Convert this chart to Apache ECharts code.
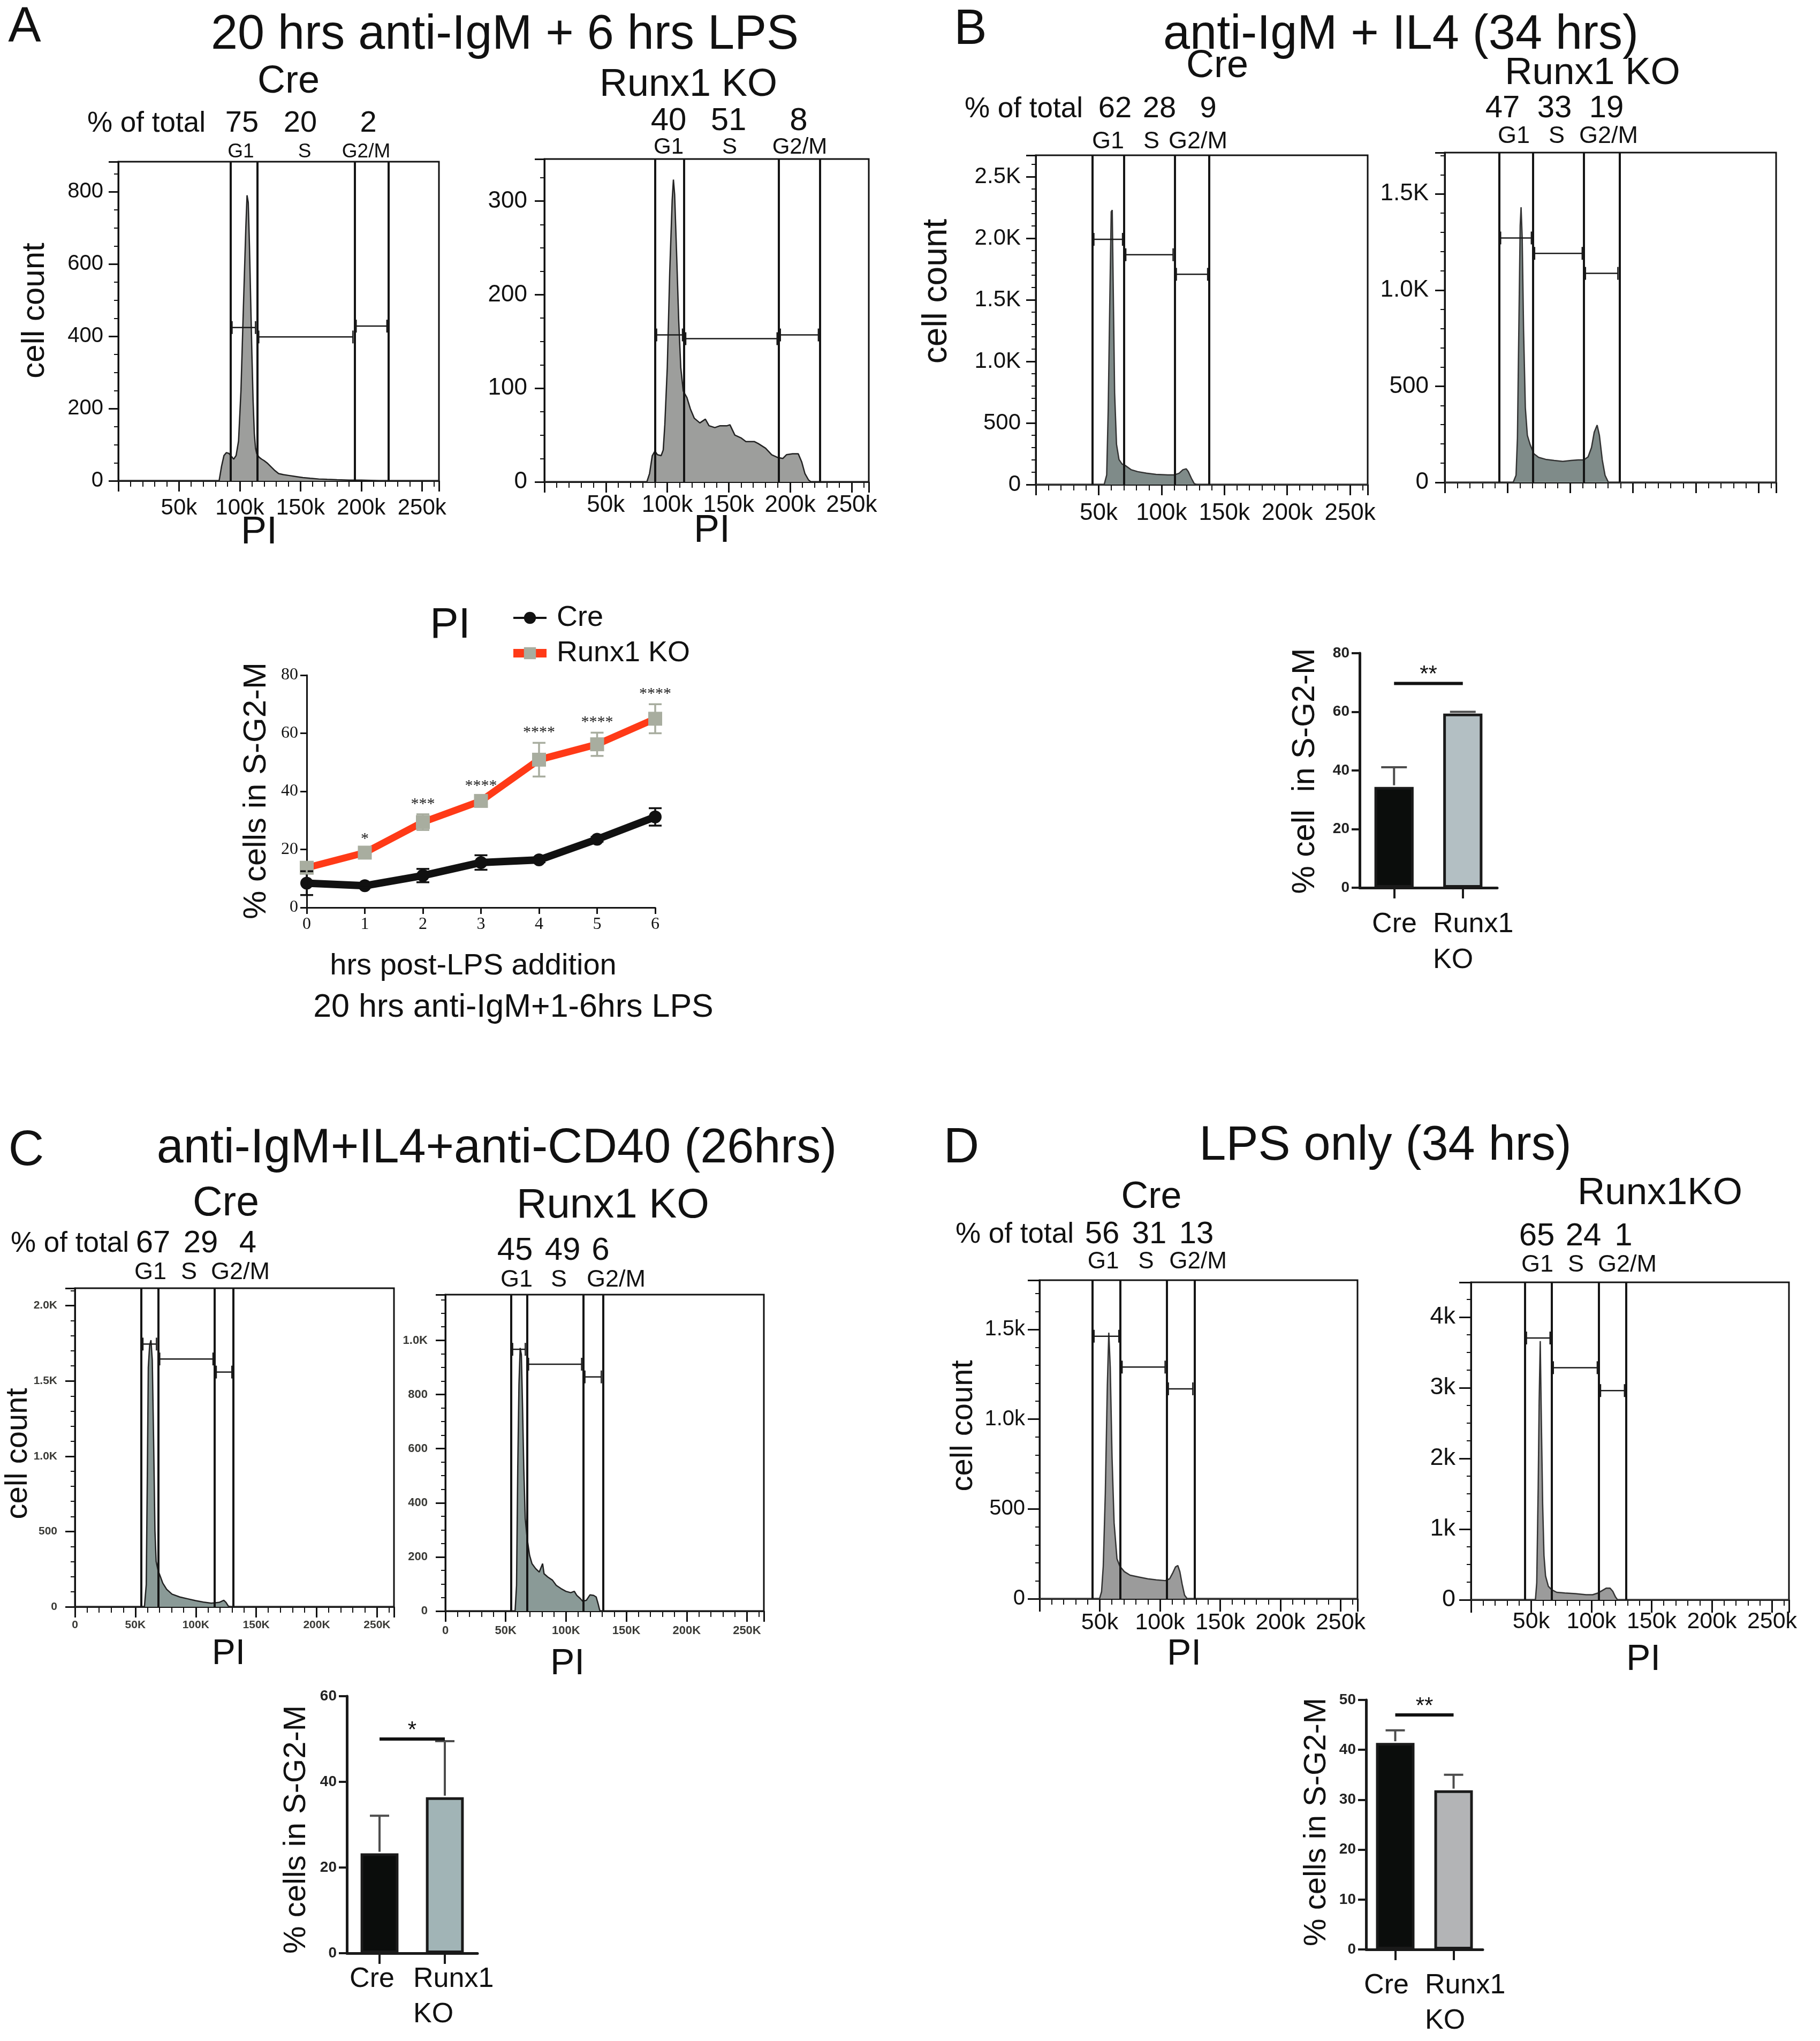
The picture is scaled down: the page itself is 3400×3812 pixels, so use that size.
<!DOCTYPE html>
<html>
<head>
<meta charset="utf-8">
<title>Runx1 KO cell cycle</title>
<script src="https://cdn.jsdelivr.net/npm/echarts@6.0.0/dist/echarts.min.js"></script>
<style>
html,body{margin:0;padding:0;background:#ffffff;}
#chart{width:3400px;height:3812px;}
</style>
</head>
<body>
<div id="chart"></div>
<script>
// ======================= DATA =======================
const PHASES = ['G1', 'S', 'G2/M'];
const PI_TICKS_K = ['', '50k', '100k', '150k', '200k', '250k'];
const PI_TICKS_CAP = ['0', '50K', '100K', '150K', '200K', '250K'];
const PI_TICKS_NONE = ['', '', '', '', '', ''];
const PI_MAX = 264; // PI axis range, thousands

const TITLE_A = '20 hrs anti-IgM + 6 hrs LPS';
const TITLE_B = 'anti-IgM + IL4 (34 hrs)';
const TITLE_C = 'anti-IgM+IL4+anti-CD40 (26hrs)';
const TITLE_D = 'LPS only (34 hrs)';

// Panel A, Cre histogram (PI in thousands / cell count)
const A_CRE_PI    = [0, 83, 85, 87, 89, 91, 93, 95, 97, 99, 101, 103, 105, 106, 107, 108, 109, 110, 111, 112, 113, 114, 116, 118, 120, 123, 126, 129, 132, 136, 140, 146, 152, 158, 165, 172, 180, 190, 200, 208, 215, 264];
const A_CRE_COUNT = [0, 0, 40, 70, 78, 76, 68, 60, 70, 110, 250, 480, 700, 790, 770, 650, 500, 350, 220, 130, 90, 75, 65, 60, 56, 48, 38, 28, 20, 17, 15, 12, 9, 7, 5, 4, 3, 2, 2, 1, 0, 0];
const A_CRE_GATES = [92.3, 114.3, 194.5, 222.5];
const A_CRE_LEVELS = [424, 398, 428];
const A_CRE_PCT = ['75', '20', '2'];
const A_CRE_YTICKS = ['0', '200', '400', '600', '800'];

// Panel A, Runx1 KO histogram
const A_KO_PI    = [0, 83.4, 85.6, 87.8, 90, 92, 95, 96.7, 98, 100, 102, 104, 105, 106, 107.7, 109.3, 111, 113, 116, 118.8, 122, 126.5, 131, 134, 138.7, 143, 148.7, 151, 155, 160, 164, 171, 174, 180, 185, 190, 194, 197, 202, 206.6, 209.5, 212, 215, 217, 264];
const A_KO_COUNT = [0, 0, 9, 28, 33, 29, 28, 34, 61, 122, 224, 301, 323, 307, 240, 173, 122, 97, 90, 78, 68, 63, 67, 60, 58, 60, 60, 61, 50, 47, 43, 43, 41, 36, 29, 26, 25, 29, 30, 30, 21, 9, 2, 0, 0];
const A_KO_GATES = [90.0, 113.7, 190.7, 224.3];
const A_KO_LEVELS = [157, 153, 157];
const A_KO_PCT = ['40', '51', '8'];
const A_KO_YTICKS = ['0', '100', '200', '300'];

// Panel A, time course (% cells in S-G2-M)
const HOURS = [0, 1, 2, 3, 4, 5, 6];
const LINE_CRE_MEAN = [8.4, 7.5, 11.0, 15.5, 16.4, 23.5, 31.2];
const LINE_CRE_ERR  = [4.1, 0.6, 2.3, 2.5, 0.8, 0.8, 3.0];
const LINE_KO_MEAN  = [13.7, 18.9, 29.4, 36.7, 50.9, 56.2, 65.0];
const LINE_KO_ERR   = [2.0, 1.2, 2.7, 1.6, 5.8, 4.0, 5.0];
const LINE_SIG      = ['', '*', '***', '****', '****', '****', '****'];
const LINE_Y_TICKS  = ['0', '20', '40', '60', '80'];

// Panel B, Cre histogram
const B_CRE_PI    = [0, 54.4, 56.4, 57.6, 58.8, 60, 60.8, 61.8, 62.7, 64.2, 66.2, 68.6, 71, 76, 81, 88, 95.6, 105, 110, 114, 117, 119.6, 121.3, 123.8, 126, 128, 264];
const B_CRE_COUNT = [0, 0, 78, 605, 1440, 2217, 2230, 1440, 745, 328, 203, 167, 156, 120, 105, 92, 83, 78, 78, 92, 120, 128, 105, 50, 8, 0, 0];
const B_CRE_GATES = [44.9, 70.3, 110.5, 138.0];
const B_CRE_LEVELS = [1992, 1867, 1708];
const B_CRE_PCT = ['62', '28', '9'];
const B_CRE_YTICKS = ['0', '500', '1.0K', '1.5K', '2.0K', '2.5K'];

// Panel B, Runx1 KO histogram
const B_KO_PI    = [0, 54.5, 56.8, 57.9, 59, 60.1, 60.8, 61.7, 62.8, 64.2, 65.8, 68, 71, 74.8, 80.4, 87.2, 94, 100.7, 106.3, 110.8, 114.2, 116.9, 119.1, 121.4, 123.2, 125.5, 127.7, 130.4, 264];
const B_KO_COUNT = [0, 0, 37, 229, 790, 1335, 1431, 1271, 790, 389, 245, 197, 149, 130, 120, 114, 109, 114, 117, 117, 133, 181, 261, 298, 245, 117, 37, 0, 0];
const B_KO_GATES = [43.2, 70.3, 110.8, 139.2];
const B_KO_LEVELS = [1271, 1191, 1087];
const B_KO_PCT = ['47', '33', '19'];
const B_KO_YTICKS = ['0', '500', '1.0K', '1.5K'];

// Panel C, Cre histogram
const C_CRE_PI    = [0, 57.5, 59, 59.9, 60.7, 61.8, 62.9, 64, 65.1, 66.2, 67.2, 68.8, 70.5, 72.7, 75.9, 80.3, 86.8, 93.3, 99.8, 106.3, 112.8, 119.3, 123.2, 125, 126.9, 128.4, 264];
const C_CRE_COUNT = [0, 0, 145, 867, 1590, 1735, 1771, 1638, 1108, 506, 301, 241, 205, 157, 116, 84, 65, 53, 41, 31, 24, 29, 43, 29, 5, 0, 0];
const C_CRE_GATES = [54.9, 68.8, 115.6, 131.2];
const C_CRE_LEVELS = [1745, 1646, 1559];
const C_CRE_PCT = ['67', '29', '4'];
const C_CRE_YTICKS = ['0', '500', '1.0K', '1.5K', '2.0K'];

// Panel C, Runx1 KO histogram
const C_KO_PI    = [0, 57.8, 59, 60, 61, 62, 63, 64, 65, 66.2, 67.8, 69.8, 71.8, 74.8, 77.8, 80.6, 81.8, 84.8, 88.8, 91.9, 95.9, 99.9, 103.9, 106.9, 108.9, 111.9, 113.9, 116.9, 119.9, 122.9, 125, 126.6, 128, 129, 264];
const C_KO_COUNT = [0, 0, 95, 527, 836, 972, 947, 749, 527, 342, 268, 206, 175, 157, 144, 175, 138, 126, 114, 95, 83, 73, 68, 73, 58, 46, 36, 40, 60, 58, 52, 27, 2, 0, 0];
const C_KO_GATES = [54.4, 67.6, 114.3, 130.6];
const C_KO_LEVELS = [967, 912, 865];
const C_KO_PCT = ['45', '49', '6'];
const C_KO_YTICKS = ['0', '200', '400', '600', '800', '1.0K'];

// Panel D, Cre histogram
const D_CRE_PI    = [0, 49.8, 51.5, 52.9, 54.6, 56.3, 57.5, 58.7, 60.2, 61.9, 64.3, 66.7, 70.4, 75.2, 82.5, 89.8, 97, 104.4, 108, 110.4, 112.9, 114.8, 116.5, 118.4, 120.4, 122.6, 264];
const D_CRE_COUNT = [0, 0, 40, 181, 585, 1190, 1482, 1290, 786, 423, 222, 181, 151, 131, 121, 111, 105, 101, 111, 141, 177, 185, 151, 81, 20, 0, 0];
const D_CRE_GATES = [43.9, 67.2, 105.6, 128.6];
const D_CRE_LEVELS = [1462, 1290, 1169];
const D_CRE_PCT = ['56', '31', '13'];
const D_CRE_YTICKS = ['0', '500', '1.0k', '1.5k'];

// Panel D, Runx1 KO histogram
const D_KO_PI    = [0, 53.5, 54.6, 55.8, 56.6, 57.5, 58.4, 59.5, 60.6, 61.9, 64.2, 66.8, 71.2, 77.9, 86.7, 95.6, 101, 105.5, 108.8, 112.2, 115.5, 117.7, 120, 121.7, 264];
const D_KO_COUNT = [0, 0, 242, 1594, 2802, 3662, 2560, 1353, 628, 338, 193, 145, 106, 97, 87, 72, 72, 97, 130, 164, 164, 121, 39, 0, 0];
const D_KO_GATES = [44.7, 67.0, 106.2, 128.8];
const D_KO_LEVELS = [3705, 3285, 2961];
const D_KO_PCT = ['65', '24', '1'];
const D_KO_YTICKS = ['0', '1k', '2k', '3k', '4k'];

// Bar charts (% cells in S-G2-M)
const BAR_GROUPS = ['Cre', 'Runx1\nKO'];
const B_BAR_MEAN = [34.4, 59.4];
const B_BAR_SD   = [6.7, 0.6];
const B_BAR_SIG  = ['**'];
const B_BAR_SIG_Y = [69.7];
const B_BAR_YTICKS = ['0', '20', '40', '60', '80'];

const C_BAR_MEAN = [23.3, 36.4];
const C_BAR_SD   = [8.8, 13.1];
const C_BAR_SIG  = ['*'];
const C_BAR_SIG_Y = [50];
const C_BAR_YTICKS = ['0', '20', '40', '60'];

const D_BAR_MEAN = [41.4, 31.9];
const D_BAR_SD   = [2.5, 3.1];
const D_BAR_SIG  = ['**'];
const D_BAR_SIG_Y = [47];
const D_BAR_YTICKS = ['0', '10', '20', '30', '40', '50'];

// ======================= LAYOUT / STYLE =======================
const SANS_F = "'Liberation Sans', Arial, Helvetica, sans-serif";
const SERIF_F = "'Liberation Serif', 'Times New Roman', serif";
const NARROW_F = "'Liberation Sans Narrow', 'Liberation Sans', Arial, sans-serif";
const INK = '#111111';

const option = {
  animation: false,
  backgroundColor: '#ffffff',
  textStyle: { fontFamily: SANS_F },
  grid: [], xAxis: [], yAxis: [], series: [],
  legend: {
    show: true,
    data: [
      { name: 'Cre', lineStyle: { width: 4 } },
      { name: 'Runx1 KO', lineStyle: { width: 16 } }
    ],
    orient: 'vertical', left: 946, top: 1122,
    itemWidth: 62, itemHeight: 28, itemGap: 12, selectedMode: false,
    textStyle: { fontSize: 54, color: INK, fontFamily: SANS_F, padding: [0, 0, 0, 14] }
  },
  graphic: { elements: [] }
};
const G = option.graphic.elements;

function T(text, x, y, size, o) {
  o = o || {};
  const fam = o.family || SANS_F;
  const f = (o.weight || 'normal') + ' ' + size + 'px ' + fam;
  G.push({
    type: 'text', x: x, y: y, rotation: o.rot || 0, z: 100, silent: true,
    style: { text: text, font: f, fill: o.color || INK,
      align: o.align || 'center', textAlign: o.align || 'center',
      verticalAlign: 'middle', textVerticalAlign: 'middle' }
  });
}

function gateRender(params, api) {
  const yv = api.value(2);
  const a = api.coord([api.value(0), yv]);
  const b = api.coord([api.value(1), yv]);
  const t = 12, st = { stroke: '#1a1a1a', lineWidth: 2.5 };
  return { type: 'group', children: [
    { type: 'line', shape: { x1: a[0] + 3, y1: a[1], x2: b[0] - 3, y2: b[1] }, style: st },
    { type: 'line', shape: { x1: a[0] + 3, y1: a[1] - t, x2: a[0] + 3, y2: a[1] + t }, style: st },
    { type: 'line', shape: { x1: b[0] - 3, y1: b[1] - t, x2: b[0] - 3, y2: b[1] + t }, style: st }
  ] };
}

function addHist(h) {
  const gi = option.grid.length;
  option.grid.push({ left: h.box[0], top: h.box[1], width: h.box[2], height: h.box[3],
    show: true, borderColor: INK, borderWidth: 3, backgroundColor: 'transparent' });
  const lab = { show: true, color: h.lc || INK, fontFamily: SANS_F, fontWeight: h.fw || 'normal' };
  const xi = option.xAxis.length;
  option.xAxis.push({ type: 'value', gridIndex: gi, position: 'bottom', min: 0, max: PI_MAX, interval: 50,
    axisLine: { show: true, onZero: false, lineStyle: { color: INK, width: 3 } },
    axisTick: { show: true, inside: false, length: h.xMajor || 20, lineStyle: { color: INK, width: 3 } },
    axisLabel: Object.assign({}, lab, { margin: h.xMargin, fontSize: h.xFont,
      formatter: v => (v % 50 === 0 && v / 50 < h.xTicks.length) ? h.xTicks[v / 50] : '' }),
    splitLine: { show: false }, minorTick: { show: false } });
  option.xAxis.push({ type: 'value', gridIndex: gi, position: 'bottom', min: 0, max: PI_MAX, interval: 10,
    axisLine: { show: false }, axisLabel: { show: false }, splitLine: { show: false },
    axisTick: { show: true, inside: false, length: h.xMinor || 11, lineStyle: { color: INK, width: 2 } } });
  const yi = option.yAxis.length;
  option.yAxis.push({ type: 'value', gridIndex: gi, position: 'left', min: 0, max: h.ymax, interval: h.yInt,
    axisLine: { show: true, onZero: false, lineStyle: { color: INK, width: 3 } },
    axisTick: { show: true, inside: false, length: h.yMajor || 18, lineStyle: { color: INK, width: 3 } },
    axisLabel: Object.assign({}, lab, { margin: h.yMargin, fontSize: h.yFont,
      formatter: v => (v % h.yInt === 0 && v / h.yInt < h.yTicks.length) ? h.yTicks[v / h.yInt] : '' }),
    splitLine: { show: false } });
  option.yAxis.push({ type: 'value', gridIndex: gi, position: 'left', min: 0, max: h.ymax, interval: h.yMinorInt,
    axisLine: { show: false }, axisLabel: { show: false }, splitLine: { show: false },
    axisTick: { show: true, inside: false, length: h.yMinor || 8, lineStyle: { color: INK, width: 2 } } });

  option.series.push({
    type: 'line', name: h.name + ' histogram', xAxisIndex: xi, yAxisIndex: yi,
    data: h.pi.map((p, i) => [p, h.count[i]]),
    symbol: 'none', showSymbol: false, smooth: false, silent: true, z: 2,
    lineStyle: { color: h.stroke || '#222', width: h.lw || 2.5 },
    areaStyle: { color: h.fill, opacity: 1 },
    markLine: { silent: true, symbol: 'none', animation: false, label: { show: false },
      lineStyle: { color: '#151515', width: 4, type: 'solid' },
      emphasis: { disabled: true },
      data: h.gates.map(g => ({ xAxis: g })) }
  });
  option.series.push({
    type: 'custom', name: h.name + ' gates', xAxisIndex: xi, yAxisIndex: yi, silent: true, z: 4,
    data: [[h.gates[0], h.gates[1], h.levels[0]], [h.gates[1], h.gates[2], h.levels[1]], [h.gates[2], h.gates[3], h.levels[2]]],
    encode: { x: [0, 1], y: 2 },
    renderItem: gateRender
  });
}

const HISTS = [
  { name: 'A Cre', pi: A_CRE_PI, count: A_CRE_COUNT, gates: A_CRE_GATES, levels: A_CRE_LEVELS, yTicks: A_CRE_YTICKS, xTicks: PI_TICKS_K,
    box: [221, 302, 599, 596], ymax: 883, yInt: 200, yMinorInt: 50, fill: '#9d9e9c', yFont: 40, xFont: 42, yMargin: 28, xMargin: 30 },
  { name: 'A KO', pi: A_KO_PI, count: A_KO_COUNT, gates: A_KO_GATES, levels: A_KO_LEVELS, yTicks: A_KO_YTICKS, xTicks: PI_TICKS_K,
    box: [1017, 297, 606, 603], ymax: 345, yInt: 100, yMinorInt: 25, fill: '#9d9e9c', yFont: 44, xFont: 44, yMargin: 32, xMargin: 22 },
  { name: 'B Cre', pi: B_CRE_PI, count: B_CRE_COUNT, gates: B_CRE_GATES, levels: B_CRE_LEVELS, yTicks: B_CRE_YTICKS, xTicks: PI_TICKS_K,
    box: [1935, 290, 620, 615], ymax: 2675, yInt: 500, yMinorInt: 100, fill: '#7f8b89', stroke: '#333', yFont: 42, xFont: 44, yMargin: 28, xMargin: 32 },
  { name: 'B KO', pi: B_KO_PI, count: B_KO_COUNT, gates: B_KO_GATES, levels: B_KO_LEVELS, yTicks: B_KO_YTICKS, xTicks: PI_TICKS_NONE,
    box: [2699, 285, 619, 616], ymax: 1715, yInt: 500, yMinorInt: 100, fill: '#7f8b89', stroke: '#333', yFont: 44, xFont: 44, yMargin: 30, xMargin: 30 },
  { name: 'C Cre', pi: C_CRE_PI, count: C_CRE_COUNT, gates: C_CRE_GATES, levels: C_CRE_LEVELS, yTicks: C_CRE_YTICKS, xTicks: PI_TICKS_CAP,
    box: [140, 2406, 596, 595], ymax: 2116, yInt: 500, yMinorInt: 100, fill: '#8a9a97', yFont: 21, xFont: 21, fw: 'bold', lc: '#3a3a36', yMargin: 33, xMargin: 24 },
  { name: 'C KO', pi: C_KO_PI, count: C_KO_COUNT, gates: C_KO_GATES, levels: C_KO_LEVELS, yTicks: C_KO_YTICKS, xTicks: PI_TICKS_CAP,
    box: [832, 2418, 595, 591], ymax: 1169, yInt: 200, yMinorInt: 50, fill: '#8a9a97', yFont: 22, xFont: 22, fw: 'bold', lc: '#3a3a36', yMargin: 33, xMargin: 26 },
  { name: 'D Cre', pi: D_CRE_PI, count: D_CRE_COUNT, gates: D_CRE_GATES, levels: D_CRE_LEVELS, yTicks: D_CRE_YTICKS, xTicks: PI_TICKS_K,
    box: [1942, 2391, 594, 595], ymax: 1774, yInt: 500, yMinorInt: 100, fill: '#9b9b9b', stroke: '#333', yFont: 40, xFont: 43, yMargin: 27, xMargin: 24, yMajor: 22, xMajor: 24 },
  { name: 'D KO', pi: D_KO_PI, count: D_KO_COUNT, gates: D_KO_GATES, levels: D_KO_LEVELS, yTicks: D_KO_YTICKS, xTicks: PI_TICKS_K,
    box: [2748, 2395, 594, 593], ymax: 4493, yInt: 1000, yMinorInt: 250, fill: '#9b9b9b', stroke: '#333', yFont: 45, xFont: 43, yMargin: 29, xMargin: 20, yMajor: 22, xMajor: 24 }
];
HISTS.forEach(addHist);

// ---------- line chart (panel A bottom) ----------
(function () {
  const gi = option.grid.length;
  option.grid.push({ left: 573, top: 1261, width: 651, height: 434, show: false });
  const xi = option.xAxis.length, yi = option.yAxis.length;
  option.xAxis.push({ type: 'value', gridIndex: gi, min: 0, max: 6, interval: 1, position: 'bottom',
    axisLine: { show: true, onZero: false, lineStyle: { color: INK, width: 3 } },
    axisTick: { show: true, length: 12, lineStyle: { color: INK, width: 3 } },
    axisLabel: { show: true, margin: 16, fontSize: 32, fontFamily: SERIF_F, color: INK, formatter: v => String(HOURS[v]) },
    splitLine: { show: false } });
  option.yAxis.push({ type: 'value', gridIndex: gi, min: 0, max: 80, interval: 20, position: 'left',
    axisLine: { show: true, onZero: false, lineStyle: { color: INK, width: 3 } },
    axisTick: { show: true, length: 12, lineStyle: { color: INK, width: 3 } },
    axisLabel: { show: true, margin: 16, fontSize: 32, fontFamily: SERIF_F, color: INK, formatter: v => LINE_Y_TICKS[v / 20] },
    splitLine: { show: false } });

  function errRender(color, cap, w) {
    return function (params, api) {
      const x = api.value(0);
      const lo = api.coord([x, api.value(1)]), hi = api.coord([x, api.value(2)]);
      const st = { stroke: color, lineWidth: w };
      return { type: 'group', children: [
        { type: 'line', shape: { x1: lo[0], y1: lo[1], x2: hi[0], y2: hi[1] }, style: st },
        { type: 'line', shape: { x1: lo[0] - cap, y1: lo[1], x2: lo[0] + cap, y2: lo[1] }, style: st },
        { type: 'line', shape: { x1: hi[0] - cap, y1: hi[1], x2: hi[0] + cap, y2: hi[1] }, style: st }
      ] };
    };
  }
  option.series.push({ type: 'line', name: 'Cre', xAxisIndex: xi, yAxisIndex: yi,
    data: HOURS.map((h, i) => [h, LINE_CRE_MEAN[i]]), symbol: 'circle', symbolSize: 24, showSymbol: true,
    lineStyle: { color: '#111', width: 14 }, itemStyle: { color: '#111' }, z: 3, emphasis: { disabled: true } });
  option.series.push({ type: 'line', name: 'Runx1 KO', xAxisIndex: xi, yAxisIndex: yi,
    data: HOURS.map((h, i) => [h, LINE_KO_MEAN[i]]), symbol: 'rect', symbolSize: 26, showSymbol: true,
    lineStyle: { color: '#ff3a17', width: 13 }, itemStyle: { color: '#a8ad9f' }, z: 4, emphasis: { disabled: true } });
  option.series.push({ type: 'custom', name: 'Cre err', xAxisIndex: xi, yAxisIndex: yi, silent: true, z: 5,
    data: HOURS.map((h, i) => [h, LINE_CRE_MEAN[i] - LINE_CRE_ERR[i], LINE_CRE_MEAN[i] + LINE_CRE_ERR[i]]),
    encode: { x: 0, y: [1, 2] }, renderItem: errRender('#111', 12, 3.5) });
  option.series.push({ type: 'custom', name: 'KO err', xAxisIndex: xi, yAxisIndex: yi, silent: true, z: 5,
    data: HOURS.map((h, i) => [h, LINE_KO_MEAN[i] - LINE_KO_ERR[i], LINE_KO_MEAN[i] + LINE_KO_ERR[i]]),
    encode: { x: 0, y: [1, 2] }, renderItem: errRender('#a8ad9f', 12, 3.5) });
  option.series.push({ type: 'custom', name: 'KO sig', xAxisIndex: xi, yAxisIndex: yi, silent: true, z: 6,
    data: HOURS.map((h, i) => [h, LINE_KO_MEAN[i] + LINE_KO_ERR[i], i]),
    encode: { x: 0, y: 1 },
    renderItem: function (params, api) {
      const p = api.coord([api.value(0), api.value(1)]);
      return { type: 'text', x: p[0], y: p[1] - 4,
        style: { text: LINE_SIG[api.value(2)], font: "30px " + SERIF_F, fill: '#222',
          align: 'center', textAlign: 'center', verticalAlign: 'bottom', textVerticalAlign: 'bottom' } };
    } });
})();

// ---------- bar charts ----------
function addBar(b) {
  const gi = option.grid.length;
  option.grid.push({ left: b.box[0], top: b.box[1], width: b.box[2], height: b.box[3], show: false });
  const xi = option.xAxis.length, yi = option.yAxis.length;
  option.xAxis.push({ type: 'category', gridIndex: gi, data: BAR_GROUPS, position: 'bottom', boundaryGap: true,
    axisLine: { show: true, onZero: false, lineStyle: { color: '#1a1a1a', width: 5 } },
    axisTick: { show: true, alignWithLabel: true, length: 20, lineStyle: { color: '#1a1a1a', width: 4 } },
    axisLabel: { show: false },
    splitLine: { show: false } });
  option.yAxis.push({ type: 'value', gridIndex: gi, min: 0, max: b.ymax, interval: b.yInt, position: 'left',
    axisLine: { show: true, onZero: false, lineStyle: { color: '#1a1a1a', width: 5 } },
    axisTick: { show: true, length: 15, lineStyle: { color: '#1a1a1a', width: 4 } },
    axisLabel: { show: true, margin: 19, fontSize: 28, fontWeight: 'bold', fontFamily: NARROW_F, color: '#222',
      formatter: v => b.yTicks[v / b.yInt] },
    splitLine: { show: false } });
  option.series.push({ type: 'bar', name: b.name + ' bars', xAxisIndex: xi, yAxisIndex: yi, barWidth: b.barWidth, silent: true, z: 2,
    data: b.mean.map((m, i) => ({ value: m, itemStyle: { color: b.colors[i], borderColor: '#1a1a1a', borderWidth: 5 } })) });
  option.series.push({ type: 'custom', name: b.name + ' err', xAxisIndex: xi, yAxisIndex: yi, silent: true, z: 3,
    data: b.mean.map((m, i) => [i, m, m + b.sd[i]]), encode: { x: 0, y: [1, 2] },
    renderItem: function (params, api) {
      const x = api.value(0);
      const lo = api.coord([x, api.value(1)]), hi = api.coord([x, api.value(2)]);
      const st = { stroke: '#4d4d4d', lineWidth: 4 };
      return { type: 'group', children: [
        { type: 'line', shape: { x1: lo[0], y1: lo[1] - 3, x2: hi[0], y2: hi[1] }, style: st },
        { type: 'line', shape: { x1: hi[0] - b.cap, y1: hi[1], x2: hi[0] + b.cap, y2: hi[1] }, style: st }
      ] };
    } });
  option.series.push({ type: 'custom', name: b.name + ' sig', xAxisIndex: xi, yAxisIndex: yi, silent: true, z: 4,
    data: b.sigY.map((y, i) => [0, 1, y, i]), encode: { x: [0, 1], y: 2 },
    renderItem: function (params, api) {
      const a = api.coord([api.value(0), api.value(2)]), c = api.coord([api.value(1), api.value(2)]);
      return { type: 'group', children: [
        { type: 'line', shape: { x1: a[0], y1: a[1], x2: c[0], y2: c[1] }, style: { stroke: '#111', lineWidth: 6 } },
        { type: 'text', x: (a[0] + c[0]) / 2, y: a[1] - 16,
          style: { text: b.sig[api.value(3)], font: '42px ' + SANS_F, fill: '#111',
            align: 'center', textAlign: 'center', verticalAlign: 'middle', textVerticalAlign: 'middle' } }
      ] };
    } });
  // category labels (group names from BAR_GROUPS): first centred, second left-aligned block
  T(BAR_GROUPS[0], b.lab0[0], b.lab0[1], 52);
  BAR_GROUPS[1].split('\n').forEach((line, k) => T(line, b.lab1[0], b.lab1[1] + k * b.lh, 52, { align: 'left' }));
}
addBar({ name: 'B', box: [2540, 1220, 257, 438], ymax: 80, yInt: 20, yTicks: B_BAR_YTICKS, mean: B_BAR_MEAN, sd: B_BAR_SD,
  sig: B_BAR_SIG, sigY: B_BAR_SIG_Y, colors: ['#0b0d0c', '#b3bfc3'], cap: 24, barWidth: '57%', lab0: [2605, 1727], lab1: [2677, 1727], lh: 67 });
addBar({ name: 'C', box: [648, 3168, 244, 480], ymax: 60, yInt: 20, yTicks: C_BAR_YTICKS, mean: C_BAR_MEAN, sd: C_BAR_SD,
  sig: C_BAR_SIG, sigY: C_BAR_SIG_Y, colors: ['#0b0d0c', '#a1b4b6'], cap: 18, barWidth: '58%', lab0: [695, 3697], lab1: [772, 3697], lh: 66 });
addBar({ name: 'D', box: [2552, 3175, 218, 466], ymax: 50, yInt: 10, yTicks: D_BAR_YTICKS, mean: D_BAR_MEAN, sd: D_BAR_SD,
  sig: D_BAR_SIG, sigY: D_BAR_SIG_Y, colors: ['#0b0d0c', '#b3b4b6'], cap: 18, barWidth: '66%', lab0: [2590, 3709], lab1: [2662, 3709], lh: 66 });

// ---------- text annotations ----------
T('A', 46, 53, 92); T('B', 1813, 57, 92); T('C', 49, 2151, 92); T('D', 1796, 2146, 92);
T(TITLE_A, 943, 66, 90); T(TITLE_B, 2617, 66, 90); T(TITLE_C, 928, 2146, 90); T(TITLE_D, 2588, 2141, 90);

function histLabels(L) {
  T(L.sub, L.subPos[0], L.subPos[1], L.subSize);
  if (L.total) T('% of total', L.total[0], L.total[1], 53, { align: 'left' });
  L.pct.forEach((p, i) => T(p, L.pctX[i], L.pctY, L.pctSize));
  PHASES.forEach((p, i) => T(p, L.phX[i], L.phY, L.phSize));
}
histLabels({ sub: 'Cre', subPos: [539, 153], subSize: 72, total: [163, 231], pct: A_CRE_PCT, pctX: [452, 561, 688], pctY: 231, pctSize: 56, phX: [450, 569, 684], phY: 284, phSize: 37 });
histLabels({ sub: 'Runx1 KO', subPos: [1286, 159], subSize: 72, pct: A_KO_PCT, pctX: [1249, 1361, 1492], pctY: 226, pctSize: 60, phX: [1249, 1363, 1494], phY: 275, phSize: 42 });
histLabels({ sub: 'Cre', subPos: [2274, 124], subSize: 72, total: [1802, 204], pct: B_CRE_PCT, pctX: [2083, 2166, 2257], pctY: 204, pctSize: 56, phX: [2070, 2151, 2238], phY: 265, phSize: 45 });
histLabels({ sub: 'Runx1 KO', subPos: [2975, 137], subSize: 71, pct: B_KO_PCT, pctX: [2807, 2904, 3001], pctY: 203, pctSize: 58, phX: [2828, 2908, 3005], phY: 255, phSize: 45 });
histLabels({ sub: 'Cre', subPos: [422, 2249], subSize: 77, total: [20, 2323], pct: C_CRE_PCT, pctX: [286, 375, 463], pctY: 2323, pctSize: 58, phX: [281, 353, 449], phY: 2377, phSize: 45 });
histLabels({ sub: 'Runx1 KO', subPos: [1145, 2252], subSize: 78, pct: C_KO_PCT, pctX: [962, 1051, 1122], pctY: 2336, pctSize: 60, phX: [965, 1044, 1151], phY: 2391, phSize: 45 });
histLabels({ sub: 'Cre', subPos: [2151, 2237], subSize: 70, total: [1785, 2306], pct: D_CRE_PCT, pctX: [2059, 2147, 2235], pctY: 2306, pctSize: 58, phX: [2061, 2141, 2238], phY: 2357, phSize: 44 });
histLabels({ sub: 'Runx1KO', subPos: [3101, 2229], subSize: 71, pct: D_KO_PCT, pctX: [2871, 2958, 3033], pctY: 2309, pctSize: 60, phX: [2872, 2944, 3040], phY: 2363, phSize: 45 });

const R = Math.PI / 2;
T('cell count', 65, 580, 60, { rot: R }); T('cell count', 1750, 544, 64, { rot: R });
T('cell count', 34, 2715, 58, { rot: R }); T('cell count', 1800, 2663, 58, { rot: R });
T('PI', 484, 995, 72); T('PI', 1330, 992, 72);
T('PI', 427, 3090, 66); T('PI', 1060, 3108, 68); T('PI', 2212, 3090, 68); T('PI', 3070, 3100, 68);

// line chart labels
T('PI', 841, 1169, 80);
T('% cells in S-G2-M', 479, 1477, 60, { rot: R });
T('hrs post-LPS addition', 884, 1805, 56);
T('20 hrs anti-IgM+1-6hrs LPS', 959, 1882, 61);

// bar chart y titles
T('% cell  in S-G2-M', 2439, 1440, 59, { rot: R });
T('% cells in S-G2-M', 554, 3417, 58, { rot: R });
T('% cells in S-G2-M', 2460, 3403, 58, { rot: R });

const chart = echarts.init(document.getElementById('chart'), null, { renderer: 'canvas', width: 3400, height: 3812 });
chart.setOption(option);
</script>
</body>
</html>
